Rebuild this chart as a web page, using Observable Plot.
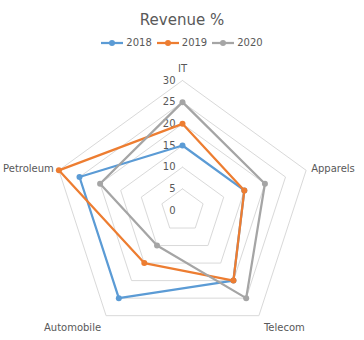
<!DOCTYPE html>
<html>
<head>
<meta charset="utf-8">
<script src="https://cdn.jsdelivr.net/npm/d3@7"></script>
<script src="https://cdn.jsdelivr.net/npm/@observablehq/plot@0.6"></script>
<style>
  html, body { margin: 0; padding: 0; background: #fff; }
  body { width: 364px; height: 340px; overflow: hidden; font-family: "DejaVu Sans", sans-serif; }
  #title { height: 24px; padding-top: 10px; line-height: 20px; text-align: center; font-size: 15px; color: #595959; }
  #legend { height: 18px; line-height: 18px; display: flex; justify-content: center; align-items: center; font-size: 10px; color: #595959; }
  .item { display: flex; align-items: center; margin: 0 2.5px; }
  .item svg { margin-right: 3px; }
</style>
</head>
<body>
<div id="title">Revenue %</div>
<div id="legend"></div>
<div id="chart"></div>
<script>
const categories = ["IT", "Apparels", "Telecom", "Automobile", "Petroleum"];
const seriesNames = ["2018", "2019", "2020"];
const values2018 = [15, 15, 20, 25, 25];
const values2019 = [20, 15, 20, 15, 30];
const values2020 = [25, 20, 25, 10, 20];
const ticks = [0, 5, 10, 15, 20, 25, 30];
const colors = ["#5b9bd5", "#ed7d31", "#a5a5a5"];

const seriesValues = [values2018, values2019, values2020];
const n = categories.length;
const ang = i => (i * 2 * Math.PI) / n;
const px = (v, i) => v * Math.sin(ang(i));
const py = (v, i) => v * Math.cos(ang(i));

// grid pentagons
const grid = [];
ticks.filter(t => t > 0).forEach(t => {
  for (let i = 0; i <= n; i++) grid.push({t, x: px(t, i % n), y: py(t, i % n)});
});

// series
const lines = [];
const pts = [];
seriesNames.forEach((s, k) => {
  for (let i = 0; i <= n; i++) {
    const v = seriesValues[k][i % n];
    const d = {s, x: px(v, i % n), y: py(v, i % n)};
    lines.push(d);
    if (i < n) pts.push(d);
  }
});

const labels = categories.map((c, i) => ({c, i, x: px(30, i), y: py(30, i)}));
const anchorOf = d => {
  const s = Math.sin(ang(d.i));
  return s > 0.1 ? "start" : s < -0.1 ? "end" : "middle";
};
const dxOf = d => {
  const s = Math.sin(ang(d.i));
  return s > 0.1 ? 5 : s < -0.1 ? -5 : 0;
};
const dyOf = d => {
  const c = Math.cos(ang(d.i));
  return c > 0.5 ? -12 : c < -0.5 ? 12 : -2;
};

const marks = [
  Plot.line(grid, {x: "x", y: "y", z: "t", stroke: "#d9d9d9", strokeWidth: 1}),
  Plot.text(ticks, {x: 0, y: d => d, text: d => String(d), textAnchor: "end", dx: -7, fill: "#595959", fontSize: 10})
];
seriesNames.forEach((s, k) => {
  marks.push(Plot.line(lines.filter(d => d.s === s), {x: "x", y: "y", stroke: colors[k], strokeWidth: 2.25, strokeLinejoin: "round"}));
  marks.push(Plot.dot(pts.filter(d => d.s === s), {x: "x", y: "y", r: 3, fill: colors[k], stroke: "none"}));
});
labels.forEach(d => {
  marks.push(Plot.text([d], {x: "x", y: "y", text: "c", textAnchor: anchorOf(d), dx: dxOf(d), dy: dyOf(d), fill: "#595959", fontSize: 10}));
});

const chart = Plot.plot({
  width: 364,
  height: 288,
  marginTop: 0, marginBottom: 0, marginLeft: 0, marginRight: 0,
  x: {domain: [-42, 42], axis: null},
  y: {domain: [-30, 36.46], axis: null},
  style: {fontFamily: "DejaVu Sans, sans-serif", fontSize: "10px", background: "#fff"},
  marks
});
document.getElementById("chart").appendChild(chart);

// legend
const legend = document.getElementById("legend");
seriesNames.forEach((s, k) => {
  const item = document.createElement("div");
  item.className = "item";
  item.innerHTML = `<svg width="22" height="10"><line x1="0" y1="5" x2="22" y2="5" stroke="${colors[k]}" stroke-width="2.25"/><circle cx="11" cy="5" r="3" fill="${colors[k]}"/></svg><span>${s}</span>`;
  legend.appendChild(item);
});
</script>
</body>
</html>
